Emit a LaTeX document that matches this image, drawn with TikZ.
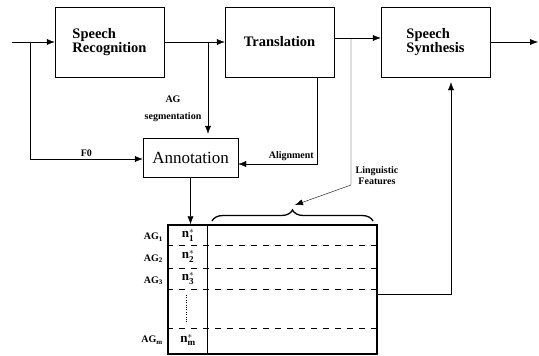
\documentclass[tikz,border=0pt]{standalone}
\usepackage{amsmath}
\usepackage{fontspec}
\setmainfont{Liberation Serif}
\usetikzlibrary{arrows.meta, positioning, decorations.pathreplacing, calc}
\tikzset{
    >={Latex[length=8pt,width=6pt]}, line width=1pt,
    block/.style ={rectangle, draw, minimum width=109pt, minimum height=70pt,
                   align=left, font=\bfseries\fontsize{14.5}{12.5}\selectfont},
    annot/.style ={rectangle, draw, minimum width=95pt, minimum height=39pt,
                   font=\fontsize{17}{20}\selectfont},
    tbl/.style ={rectangle, draw, line width=1.5pt, minimum width=209pt,
                 minimum height=129pt, inner sep=0pt},
    lbl/.style = {inner sep=1pt, align=center, font=\bfseries\fontsize{10}{11}\selectfont},
    rowlab/.style = {inner sep=0pt, anchor=east, font=\bfseries\fontsize{10}{11}\selectfont},
    nlab/.style = {inner sep=0pt, font=\fontsize{13}{14}\selectfont}
    }

\begin{document}
\begin{tikzpicture}[x=1pt, y=-1pt]
    \useasboundingbox (0,0) rectangle (539,356);

    % main chain
    \node[block] (sr) at (109.5, 42) {Speech\\Recognition};
    \node[block] (tr) at (279.5, 42) {Translation};
    \node[block] (ss) at (435.5, 42) {Speech\\Synthesis};
    \node[annot] (an) at (190.5, 157.5) {Annotation};
    \node[tbl] (tab) at (272.5, 289.5) {};

    \coordinate (in) at (12, 42);
    \coordinate (out) at (538, 42);
    \coordinate (f0) at (30, 42);
    \coordinate (seg) at (208, 42);
    \coordinate (ling) at (351, 38);
    \coordinate (lingb) at (351, 185);
    \coordinate (tip) at (295, 205);

    \draw[->] (in) -- (sr);
    \draw[->] (sr) -- (tr);
    \draw[->] ([yshift=4pt]tr.east) -- ([yshift=4pt]ss.west);
    \draw[->] (ss) -- (out);

    % side paths
    \draw[->] (f0) |- ([yshift=-1.5pt]an.west)
        node[lbl, pos=0.75, above=1pt] (f0lab) {F0};
    \draw[->, shorten >=4pt] (seg) -- (seg |- an.north);
    \node[lbl, font=\bfseries\fontsize{10}{17}\selectfont] (seglab) at (173, 108.5)
        {AG\\segmentation};
    \draw[->] ([xshift=37.5pt]tr.south) |- ([yshift=-6.5pt]an.east);
    \node[lbl, anchor=south east] (allab) at (315, 162) {Alignment};
    \draw[->] (ling) -- (lingb) -- (tip);
    \node[lbl] (linglab) at (377, 175.5) {Linguistic\\Features};
    \draw[->] (an.south) -- (an.south |- tab.north);
    \draw[->, shorten >=5pt] ([yshift=-4.5pt]tab.east) -| ([xshift=15.5pt]ss.south);

    % table
    \draw[line width=1.3pt, decorate, decoration={brace, amplitude=11pt}]
        (212, 221) -- (373, 221);
    \draw[line width=1.5pt] ([xshift=40pt]tab.north west) -- ([xshift=40pt]tab.south west);
    \foreach \y in {245, 268, 289, 328}
        \draw[dashed, dash pattern=on 6pt off 6pt] (tab.west |- 0,\y) -- (tab.east |- 0,\y);
    \draw[dotted] (186, 295) -- (186, 323);

    \foreach \i/\y in {1/235, 2/256.5, 3/278.5}{
        \node[rowlab] (ag\i) at (163, \y+2) {AG$_{\textbf{\i}}$};
        \node[nlab] (n\i) at (188, \y) {$\textbf{n}^{*}_{\textbf{\i}}$};
    }
    \node[rowlab] (agm) at (163, 340) {AG$_{\textbf{m}}$};
    \node[nlab] (nm) at (188, 340) {$\textbf{n}^{*}_{\textbf{m}}$};
\end{tikzpicture}
\end{document}
